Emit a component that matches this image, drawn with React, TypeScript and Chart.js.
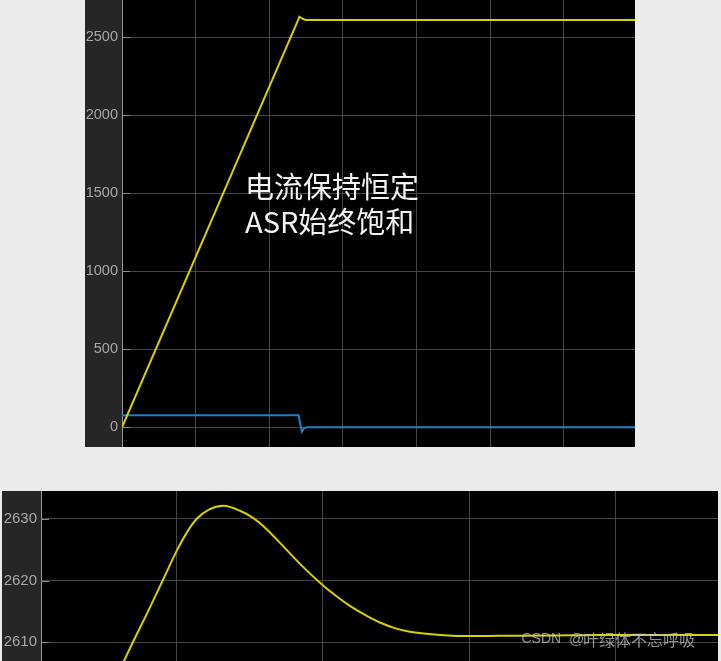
import React, { useEffect, useRef } from "react";
import { Chart, registerables } from "chart.js";

Chart.register(...registerables);

// ---------- data ----------
// top scope: speed (yellow) and current (blue)
const speedT = [0, 2.36, 2.41, 2.44, 2.49, 6.97];
const speedV = [0, 2575, 2632, 2622, 2611, 2611];
const currentT = [0, 2.4, 2.43, 2.445, 2.47, 2.51, 6.97];
const currentV = [77, 77, 0, -28, -8, 0, 0];
const topYTicks = [0, 500, 1000, 1500, 2000, 2500];
const topXTicks = [0, 1, 2, 3, 4, 5, 6];

// bottom scope: zoom on the speed overshoot
const zoomT = [0.62, 0.7, 0.8, 0.9, 1.0, 1.07, 1.137, 1.22, 1.318, 1.433, 1.524, 1.62, 1.706, 1.843, 1.991, 2.09, 2.184, 2.29, 2.389, 2.49, 2.594, 2.799, 3.004, 3.209, 3.55, 3.89, 4.23, 4.7];
const zoomV = [2606.0, 2610.0, 2614.8, 2619.8, 2624.8, 2627.8, 2630.0, 2631.5, 2632.1, 2631.3, 2630.1, 2628.2, 2626.1, 2622.7, 2619.4, 2617.5, 2615.9, 2614.4, 2613.2, 2612.3, 2611.7, 2611.2, 2611.0, 2611.05, 2611.1, 2611.2, 2611.2, 2611.2];
const zoomYTicks = [2610, 2620, 2630];
const zoomXTicks = [1, 2, 3, 4];

const annotationLines = ["电流保持恒定", "ASR始终饱和"];
const watermark = { latin: "CSDN", at: "@", cjk: "叶绿体不忘呼吸" };

const YELLOW = "#d9d000";
const BLUE = "#1f80c8";
const GRID = "#454545";
const TICK_TEXT = "#a8a8a8";

const panelBg = {
  id: "panelBg",
  beforeDraw(chart: any) {
    const { ctx, chartArea: a, width, height } = chart;
    ctx.save();
    ctx.fillStyle = "#262626";
    ctx.fillRect(0, 0, width, height);
    ctx.fillStyle = "#000000";
    ctx.fillRect(a.left, a.top, a.right - a.left, a.bottom - a.top);
    ctx.restore();
  },
};

const innerTicks = {
  id: "innerTicks",
  afterDraw(chart: any) {
    const { ctx, chartArea: a } = chart;
    const y = chart.scales.y;
    ctx.save();
    ctx.strokeStyle = "#8c8c8c";
    ctx.lineWidth = 1;
    ctx.beginPath();
    for (const t of y.ticks) {
      const py = Math.round(y.getPixelForValue(t.value)) + 0.5;
      ctx.moveTo(a.left, py);
      ctx.lineTo(a.left + 8, py);
    }
    ctx.stroke();
    ctx.restore();
  },
};

const annotationPlugin = {
  id: "annotationText",
  afterDraw(chart: any) {
    const { ctx } = chart;
    ctx.save();
    ctx.fillStyle = "#f2f2f2";
    ctx.font = '29px "Noto Sans CJK SC", sans-serif';
    ctx.textBaseline = "middle";
    ctx.textAlign = "left";
    ctx.fillText(annotationLines[0], 160, 187);
    ctx.fillText(annotationLines[1], 160, 222);
    ctx.restore();
  },
};

const watermarkPlugin = {
  id: "watermark",
  afterDraw(chart: any) {
    const { ctx } = chart;
    ctx.save();
    ctx.fillStyle = "rgba(200,200,200,0.72)";
    ctx.textBaseline = "middle";
    ctx.textAlign = "left";
    ctx.font = '14px "Liberation Sans", Arial, sans-serif';
    ctx.fillText(watermark.latin, 519.5, 148.5);
    ctx.font = '15px "Liberation Sans", Arial, sans-serif';
    ctx.fillText(watermark.at, 567, 148.5);
    ctx.font = '16px "Noto Sans CJK SC", sans-serif';
    ctx.fillText(watermark.cjk, 581, 148.5);
    ctx.restore();
  },
};

function pts(t: number[], v: number[]) {
  return t.map((x, i) => ({ x, y: v[i] }));
}

function zeroPad(s: any) {
  s.paddingTop = 0;
  s.paddingBottom = 0;
  s.paddingLeft = 0;
  s.paddingRight = 0;
}

function makeScales(opts: {
  xMin: number; xMax: number; xTicks: number[];
  yMin: number; yMax: number; yTicks: number[];
  yWidth: number; fontSize: number;
}) {
  return {
    x: {
      type: "linear" as const,
      min: opts.xMin,
      max: opts.xMax,
      ticks: { display: false },
      grid: { color: GRID, lineWidth: 1, drawTicks: false },
      border: { display: false },
      afterBuildTicks: (s: any) => { s.ticks = opts.xTicks.map((v) => ({ value: v })); },
      afterFit: (s: any) => { s.height = 0; zeroPad(s); },
    },
    y: {
      type: "linear" as const,
      min: opts.yMin,
      max: opts.yMax,
      ticks: {
        color: TICK_TEXT,
        padding: 4,
        font: { family: '"Liberation Sans", Arial, sans-serif', size: opts.fontSize },
        callback: (v: any) => String(v),
      },
      grid: { color: GRID, lineWidth: 1, drawTicks: false },
      border: { display: true, color: "#9a9a9a", width: 1 },
      afterBuildTicks: (s: any) => { s.ticks = opts.yTicks.map((v) => ({ value: v })); },
      afterFit: (s: any) => { s.width = opts.yWidth; zeroPad(s); },
    },
  };
}

export default function App() {
  const topRef = useRef<HTMLCanvasElement | null>(null);
  const botRef = useRef<HTMLCanvasElement | null>(null);

  useEffect(() => {
    const top = new Chart(topRef.current as HTMLCanvasElement, {
      type: "line",
      data: {
        datasets: [
          { data: pts(speedT, speedV), borderColor: YELLOW, borderWidth: 2, pointRadius: 0, tension: 0 },
          { data: pts(currentT, currentV), borderColor: BLUE, borderWidth: 2, pointRadius: 0, tension: 0 },
        ],
      },
      options: {
        animation: false,
        responsive: false,
        maintainAspectRatio: false,
        layout: { padding: 0 },
        plugins: { legend: { display: false }, tooltip: { enabled: false } },
        scales: makeScales({
          xMin: 0, xMax: 6.97, xTicks: topXTicks,
          yMin: -126, yMax: 2739, yTicks: topYTicks,
          yWidth: 37, fontSize: 14.5,
        }) as any,
      },
      plugins: [panelBg, innerTicks, annotationPlugin],
    });

    const bot = new Chart(botRef.current as HTMLCanvasElement, {
      type: "line",
      data: {
        datasets: [
          {
            data: pts(zoomT, zoomV), borderColor: YELLOW, borderWidth: 2, pointRadius: 0,
            cubicInterpolationMode: "monotone",
          },
        ],
      },
      options: {
        animation: false,
        responsive: false,
        maintainAspectRatio: false,
        layout: { padding: 0 },
        plugins: { legend: { display: false }, tooltip: { enabled: false } },
        scales: makeScales({
          xMin: 0.0725, xMax: 4.7, xTicks: zoomXTicks,
          yMin: 2606.97, yMax: 2634.5, yTicks: zoomYTicks,
          yWidth: 39, fontSize: 15,
        }) as any,
      },
      plugins: [panelBg, innerTicks, watermarkPlugin],
    });

    return () => {
      top.destroy();
      bot.destroy();
    };
  }, []);

  return (
    <div
      style={{
        position: "fixed", left: 0, top: 0, width: 721, height: 661,
        background: "#ebebeb", overflow: "hidden",
      }}
    >
      <canvas
        ref={topRef}
        width={550}
        height={447}
        style={{ position: "absolute", left: 85, top: 0, width: 550, height: 447, display: "block" }}
      />
      <canvas
        ref={botRef}
        width={716}
        height={170}
        style={{ position: "absolute", left: 2, top: 491, width: 716, height: 170, display: "block" }}
      />
    </div>
  );
}
